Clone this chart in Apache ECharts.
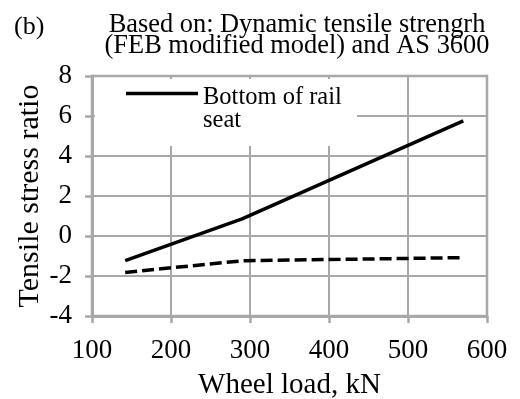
<!DOCTYPE html>
<html>
<head>
<meta charset="utf-8">
<script src="https://cdn.jsdelivr.net/npm/echarts@6/dist/echarts.min.js"></script>
<style>html,body{margin:0;padding:0;background:#fff;}#c{width:520px;height:399px;}</style>
</head>
<body>
<div id="c"></div>
<script>
// Data
const wheelLoad = [142, 290, 570];
const bottomOfRailSeat = [-1.23, 0.86, 5.76];
const dashedSeries = [-1.82, -1.24, -1.08];
const xTicks = [100, 200, 300, 400, 500, 600];
const yTicks = [-4, -2, 0, 2, 4, 6, 8];

const FONT = 'Liberation Serif';
const GRAY = '#a8a8a8';

const chart = echarts.init(document.getElementById('c'), null, {renderer: 'canvas'});
chart.setOption({
  animation: false,
  backgroundColor: '#fff',
  title: [
    {
      text: 'Based on: Dynamic tensile strengrh\n(FEB modified model) and AS 3600',
      left: 297, top: 15, textAlign: 'center', padding: 0,
      textStyle: {fontFamily: FONT, fontSize: 26.4, fontWeight: 'normal', color: '#000', lineHeight: 21}
    },
    {
      text: '(b)', left: 14, top: 17, padding: 0,
      textStyle: {fontFamily: FONT, fontSize: 26, fontWeight: 'normal', color: '#000', lineHeight: 21}
    }
  ],
  grid: {
    left: 92, right: 33, top: 76, bottom: 83, show: true,
    borderColor: GRAY, borderWidth: 2.5, backgroundColor: 'transparent',
    containLabel: false, outerBoundsMode: 'none'
  },
  graphic: [{
    type: 'rect', z: 1, silent: true,
    shape: {x: 95, y: 79, width: 262, height: 67},
    style: {fill: '#fff'}
  }],
  legend: {
    data: ['Bottom of rail seat'],
    formatter: () => '{a| }\n{b|Bottom of rail}\n{b|seat}',
    left: 126, top: 58, padding: 0, z: 5,
    icon: 'rect', itemWidth: 72, itemHeight: 3.5,
    itemStyle: {color: '#000', borderWidth: 0},
    textStyle: {
      fontFamily: FONT, fontSize: 24.5, color: '#000',
      rich: {
        a: {fontFamily: FONT, fontSize: 24.5, lineHeight: 31},
        b: {fontFamily: FONT, fontSize: 24.5, lineHeight: 23, color: '#000'}
      }
    }
  },
  xAxis: {
    type: 'value', min: xTicks[0], max: xTicks[xTicks.length - 1], interval: 100,
    name: 'Wheel load, kN', nameLocation: 'middle', nameGap: 55,
    nameTextStyle: {fontFamily: FONT, fontSize: 29, color: '#000'},
    axisLine: {show: true, onZero: false, lineStyle: {color: GRAY, width: 3}},
    axisTick: {show: true, length: 7, lineStyle: {color: GRAY, width: 2.5}},
    axisLabel: {fontFamily: FONT, fontSize: 27, color: '#000', margin: 21},
    splitLine: {show: true, lineStyle: {color: GRAY, width: 2}}
  },
  yAxis: {
    type: 'value', min: yTicks[0], max: yTicks[yTicks.length - 1], interval: 2,
    name: 'Tensile stress ratio', nameLocation: 'middle', nameGap: 47, nameMoveOverlap: false,
    nameTextStyle: {fontFamily: FONT, fontSize: 30, color: '#000'},
    axisLine: {show: true, onZero: false, lineStyle: {color: GRAY, width: 3}},
    axisTick: {show: true, length: 7, lineStyle: {color: GRAY, width: 2.5}},
    axisLabel: {fontFamily: FONT, fontSize: 27, color: '#000', margin: 20},
    splitLine: {show: true, lineStyle: {color: GRAY, width: 2}}
  },
  series: [
    {
      name: 'Bottom of rail seat', type: 'line', symbol: 'none', z: 3,
      data: wheelLoad.map((x, i) => [x, bottomOfRailSeat[i]]),
      lineStyle: {color: '#000', width: 3.5}, itemStyle: {color: '#000'}
    },
    {
      name: 'Dashed series', type: 'line', symbol: 'none', z: 3,
      data: wheelLoad.map((x, i) => [x, dashedSeries[i]]),
      lineStyle: {color: '#000', width: 3.5, type: [12, 5]}, itemStyle: {color: '#000'}
    }
  ]
});
</script>
</body>
</html>
